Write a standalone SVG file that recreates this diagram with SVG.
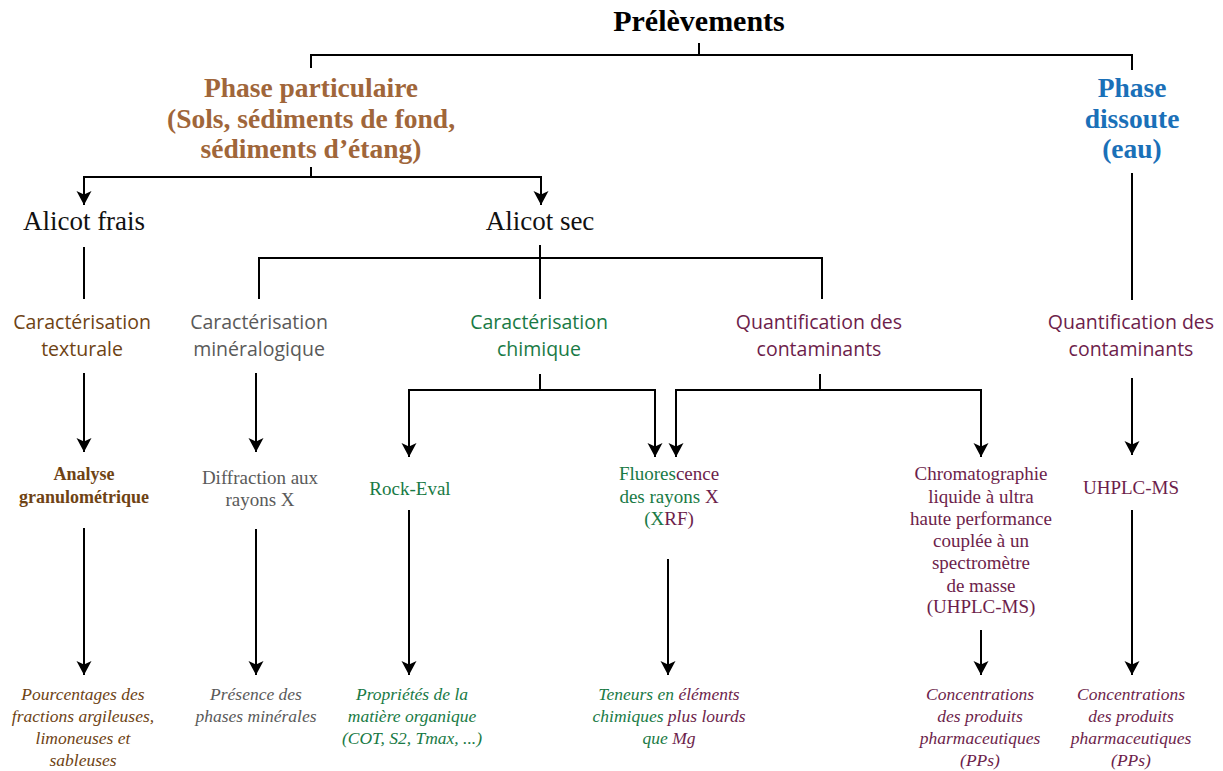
<svg xmlns="http://www.w3.org/2000/svg" width="1223" height="771" viewBox="0 0 1223 771">
<style>
text{font-family:"Liberation Serif","Times New Roman",serif;text-anchor:middle}
.t0{font-size:30px;font-weight:bold;fill:#000}
.t1{font-size:27.5px;font-weight:bold}
.t2{font-size:27px;fill:#111}
.sans{font-family:"Open Sans","Noto Sans",sans-serif;font-size:19.5px}
.l4{font-size:19px}
.b{font-weight:bold}
.it{font-size:17.5px;font-style:italic}
.brown{fill:#a0663a}
.blue{fill:#1a70b8}
.tex{fill:#6e4314}
.gray{fill:#5a5a5a}
.green{fill:#197a45}
.purple{fill:#6d1e4b}
.c{fill:none;stroke:#000;stroke-width:2}
</style>
<defs>
<marker id="ah" viewBox="-15 -8 16 16" refX="0" refY="0" markerWidth="16" markerHeight="16" markerUnits="userSpaceOnUse" orient="auto">
<path d="M0,0 L-14,-7.5 L-10.5,0 L-14,7.5 Z" fill="#000"/>
</marker>
</defs>
<rect width="1223" height="771" fill="#fff"/>
<g id="connectors">
<path class="c" d="M699,43 V55"/>
<path class="c" d="M311,68 V55 H1132 V70"/>
<path class="c" d="M311,167 V177"/>
<path class="c" d="M311,177 H84 V205" marker-end="url(#ah)"/>
<path class="c" d="M311,177 H541 V205" marker-end="url(#ah)"/>
<path class="c" d="M84,247 V299"/>
<path class="c" d="M540,245 V299"/>
<path class="c" d="M259,299 V258 H822 V299"/>
<path class="c" d="M1132,173 V300"/>
<path class="c" d="M84,373 V452" marker-end="url(#ah)"/>
<path class="c" d="M256,373 V452" marker-end="url(#ah)"/>
<path class="c" d="M540,374 V390"/>
<path class="c" d="M540,390 H409 V457" marker-end="url(#ah)"/>
<path class="c" d="M540,390 H655 V457" marker-end="url(#ah)"/>
<path class="c" d="M820,374 V390"/>
<path class="c" d="M820,390 H676 V457" marker-end="url(#ah)"/>
<path class="c" d="M820,390 H981 V457" marker-end="url(#ah)"/>
<path class="c" d="M1132,378 V455" marker-end="url(#ah)"/>
<path class="c" d="M84,528 V675" marker-end="url(#ah)"/>
<path class="c" d="M256,529 V675" marker-end="url(#ah)"/>
<path class="c" d="M409,510 V675" marker-end="url(#ah)"/>
<path class="c" d="M668,559 V675" marker-end="url(#ah)"/>
<path class="c" d="M981,630 V675" marker-end="url(#ah)"/>
<path class="c" d="M1132,510 V675" marker-end="url(#ah)"/>
</g>
<g id="prelevements"><text class="t0" x="699" y="31">Prélèvements</text></g>
<g id="phase-particulaire"><text class="t1 brown" x="311"><tspan x="311" y="97">Phase particulaire</tspan><tspan x="311" y="128">(Sols, sédiments de fond,</tspan><tspan x="311" y="158">sédiments d’étang)</tspan></text></g>
<g id="phase-dissoute"><text class="t1 blue" x="1132"><tspan x="1132" y="97">Phase</tspan><tspan x="1132" y="128">dissoute</tspan><tspan x="1132" y="158">(eau)</tspan></text></g>
<g id="alicot-frais"><text class="t2" x="84" y="230">Alicot frais</text></g>
<g id="alicot-sec"><text class="t2" x="540" y="230">Alicot sec</text></g>
<g id="car-texturale"><text class="sans tex"><tspan x="82" y="329">Caractérisation</tspan><tspan x="82" y="356">texturale</tspan></text></g>
<g id="car-mineralogique"><text class="sans gray"><tspan x="259" y="329">Caractérisation</tspan><tspan x="259" y="356">minéralogique</tspan></text></g>
<g id="car-chimique"><text class="sans green"><tspan x="539" y="329">Caractérisation</tspan><tspan x="539" y="356">chimique</tspan></text></g>
<g id="quant-part"><text class="sans purple"><tspan x="819" y="329">Quantification des</tspan><tspan x="819" y="356">contaminants</tspan></text></g>
<g id="quant-diss"><text class="sans purple"><tspan x="1131" y="329">Quantification des</tspan><tspan x="1131" y="356">contaminants</tspan></text></g>
<g id="analyse"><text class="l4 b tex" style="font-size:18px"><tspan x="84" y="480">Analyse</tspan><tspan x="84" y="503">granulométrique</tspan></text></g>
<g id="diffraction"><text class="l4 gray"><tspan x="260" y="484">Diffraction aux</tspan><tspan x="260" y="506">rayons X</tspan></text></g>
<g id="rock-eval"><text class="l4 green" x="410" y="495">Rock-Eval</text></g>
<g id="fluorescence"><text class="l4"><tspan x="669" y="480" class="green">Fluores</tspan><tspan class="purple">cence</tspan><tspan x="669" y="503" class="green">des rayons </tspan><tspan class="purple">X</tspan><tspan x="669" y="525" class="green">(X</tspan><tspan class="purple">RF)</tspan></text></g>
<g id="chromatographie"><text class="l4 purple"><tspan x="981" y="480">Chromatographie</tspan><tspan x="981" y="503">liquide à ultra</tspan><tspan x="981" y="525">haute performance</tspan><tspan x="981" y="547">couplée à un</tspan><tspan x="981" y="569">spectromètre</tspan><tspan x="981" y="592">de masse</tspan><tspan x="981" y="613">(UHPLC-MS)</tspan></text></g>
<g id="uhplc"><text class="l4 purple" x="1131" y="494">UHPLC-MS</text></g>
<g id="pourcentages"><text class="it tex"><tspan x="83" y="700">Pourcentages des</tspan><tspan x="83" y="722">fractions argileuses,</tspan><tspan x="83" y="744">limoneuses et</tspan><tspan x="83" y="766">sableuses</tspan></text></g>
<g id="presence"><text class="it gray"><tspan x="256" y="700">Présence des</tspan><tspan x="256" y="722">phases minérales</tspan></text></g>
<g id="proprietes"><text class="it green"><tspan x="412" y="700">Propriétés de la</tspan><tspan x="412" y="722">matière organique</tspan><tspan x="412" y="744">(COT, S2, Tmax, ...)</tspan></text></g>
<g id="teneurs"><text class="it"><tspan x="669" y="700" class="green">Teneurs en </tspan><tspan class="purple">éléments</tspan><tspan x="669" y="722" class="green">chimiques </tspan><tspan class="purple">plus lourds</tspan><tspan x="669" y="744" class="green">que </tspan><tspan class="purple">Mg</tspan></text></g>
<g id="concentrations1"><text class="it purple"><tspan x="980" y="700">Concentrations</tspan><tspan x="980" y="722">des produits</tspan><tspan x="980" y="744">pharmaceutiques</tspan><tspan x="980" y="766">(PPs)</tspan></text></g>
<g id="concentrations2"><text class="it purple"><tspan x="1131" y="700">Concentrations</tspan><tspan x="1131" y="722">des produits</tspan><tspan x="1131" y="744">pharmaceutiques</tspan><tspan x="1131" y="766">(PPs)</tspan></text></g>
</svg>
